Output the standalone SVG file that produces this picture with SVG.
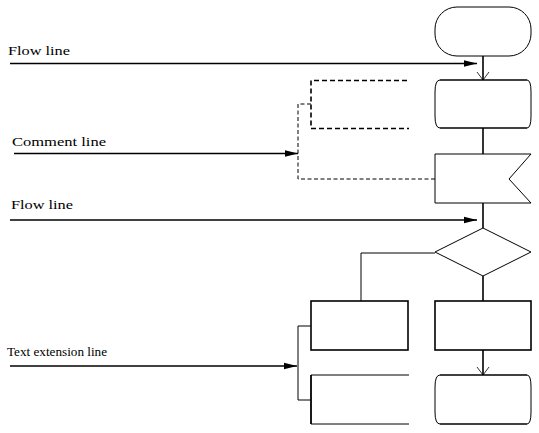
<svg xmlns="http://www.w3.org/2000/svg" width="539" height="433" viewBox="0 0 539 433">
<style>
.thick{fill:none;stroke:#000;stroke-width:1.6}
.thin{fill:none;stroke:#000;stroke-width:1}
.dash{fill:none;stroke:#000;stroke-width:1;stroke-dasharray:4,2.5}
.dashk{fill:none;stroke:#000;stroke-width:1.6;stroke-dasharray:5,3}
text{font-family:"Liberation Serif","DejaVu Serif",serif;font-size:13.5px;fill:#000}
</style>
<defs>
<marker id="fa" markerWidth="13" markerHeight="8" refX="13" refY="4" orient="auto" markerUnits="userSpaceOnUse">
<path d="M0,0.8 L13,4 L0,7.2 Z" fill="#000"/>
</marker>
<marker id="oa" markerWidth="10" markerHeight="14" refX="9" refY="7" orient="auto" markerUnits="userSpaceOnUse">
<path d="M1,1 L9,7 L1,13" fill="none" stroke="#000" stroke-width="0.8"/>
</marker>
</defs>
<g id="connectors">
<line class="thick" x1="10" y1="63.5" x2="477" y2="63.5" marker-end="url(#fa)"/>
<line class="thick" x1="14" y1="153.5" x2="298" y2="153.5" marker-end="url(#fa)"/>
<line class="thick" x1="10" y1="220" x2="477" y2="220" marker-end="url(#fa)"/>
<line class="thick" x1="10" y1="366" x2="297" y2="366" marker-end="url(#fa)"/>
<line class="thick" x1="483" y1="56" x2="483" y2="80" marker-end="url(#oa)"/>
<line class="thick" x1="483" y1="128" x2="483" y2="154"/>
<line class="thick" x1="483" y1="203" x2="483" y2="228"/>
<polyline class="thin" points="435,253 361,253 361,301"/>
<line class="thick" x1="483" y1="276" x2="483" y2="301"/>
<line class="thick" x1="483" y1="350" x2="483" y2="375" marker-end="url(#oa)"/>
<polyline class="dash" points="311,104 298,104 298,179 435,179"/>
<polyline class="thin" points="311,326 298,326 298,400 311,400"/>
</g>
<g id="terminal-top">
<rect class="thin" x="435" y="7" width="96" height="49" rx="22" ry="22"/>
</g>
<g id="process-rounded">
<line class="thick" x1="440" y1="80" x2="527" y2="80"/>
<line class="thick" x1="440" y1="128" x2="527" y2="128"/>
<path class="thin" d="M440,80 Q435,80 435,92 V116 Q435,128 440,128"/>
<path class="thin" d="M527,80 Q531,80 531,92 V116 Q531,128 527,128"/>
</g>
<g id="comment-bracket">
<polyline class="dashk" points="407,80.5 311,80.5 311,128.5 409,128.5"/>
</g>
<g id="flag">
<polygon class="thin" points="435,154 531,154 509,179 531,203 435,203"/>
</g>
<g id="decision">
<polygon class="thin" points="483,228 531,252 483,276 435,252"/>
</g>
<g id="process-left">
<rect class="thick" x="311" y="301" width="97" height="49"/>
</g>
<g id="process-right">
<rect class="thick" x="435" y="301" width="96" height="49"/>
</g>
<g id="annotation-bracket">
<polyline class="thin" points="409,375 311,375 311,424 409,424"/>
<line class="thick" x1="311" y1="375" x2="311" y2="424"/>
</g>
<g id="terminal-bottom">
<line class="thick" x1="440" y1="375" x2="527" y2="375"/>
<line class="thick" x1="440" y1="424" x2="527" y2="424"/>
<path class="thin" d="M440,375 Q435,375 435,387 V412 Q435,424 440,424"/>
<path class="thin" d="M527,375 Q531,375 531,387 V412 Q531,424 527,424"/>
</g>
<g id="labels">
<text x="8" y="55" textLength="62" lengthAdjust="spacingAndGlyphs">Flow line</text>
<text x="12" y="146" textLength="94" lengthAdjust="spacingAndGlyphs">Comment line</text>
<text x="11" y="209" textLength="62" lengthAdjust="spacingAndGlyphs">Flow line</text>
<text x="7" y="356" textLength="100" lengthAdjust="spacingAndGlyphs">Text extension line</text>
</g>
</svg>
